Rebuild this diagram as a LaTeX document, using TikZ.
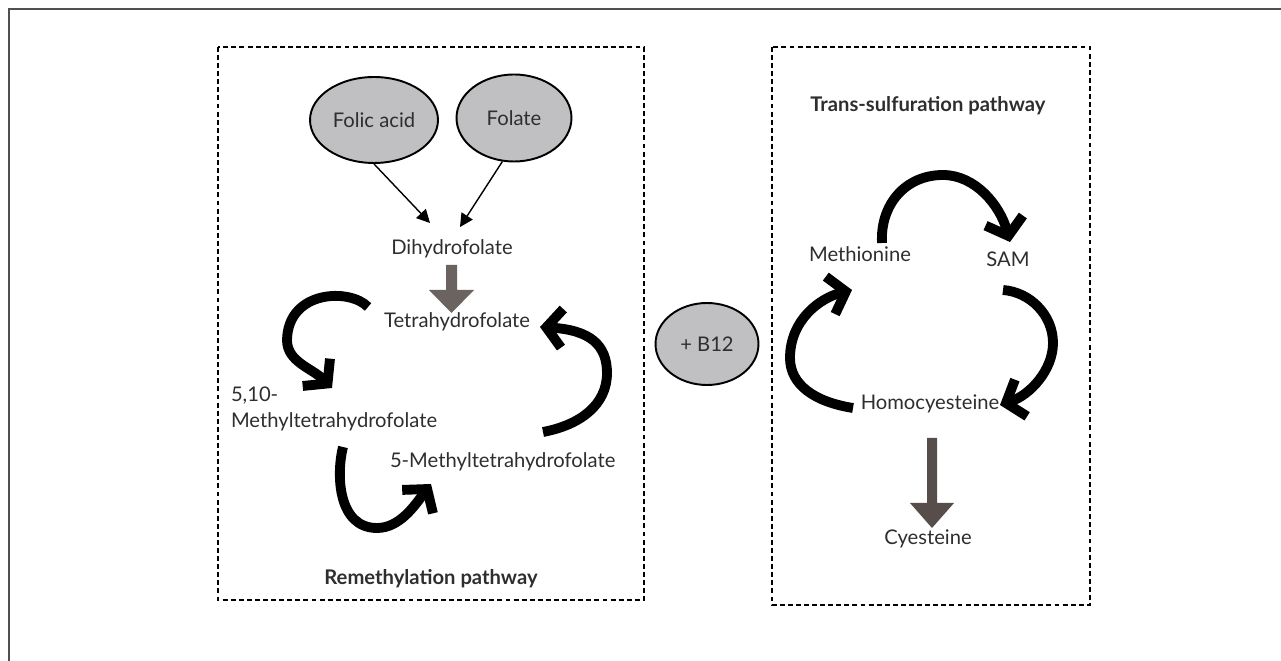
\documentclass[tikz,border=0pt]{standalone}
\usepackage{fontspec}
\setmainfont{Lato}
\usetikzlibrary{arrows.meta,shapes.geometric}
\definecolor{txt}{HTML}{2E2E2E}
\definecolor{ellfill}{HTML}{C0C0C2}
\definecolor{framecol}{HTML}{505050}
\definecolor{arrowL}{HTML}{6B6360}
\definecolor{arrowR}{HTML}{574E4B}
\begin{document}
\begin{tikzpicture}[x=0.02cm,y=-0.02cm,
  lbl/.style={font=\fontsize{11.5}{13}\selectfont, text=txt, inner sep=0pt, outer sep=0pt},
  ttl/.style={font=\fontsize{11.5}{13}\selectfont\bfseries, text=txt, inner sep=0pt},
  src/.style={ellipse, draw=black, line width=1.1pt, fill=ellfill, text=txt,
    font=\fontsize{11.5}{13}\selectfont, inner sep=0pt},
  thinarrow/.style={draw=black, line width=0.8pt, -{Triangle[length=7.5pt,width=7.5pt]}},
  cyclearrow/.style={draw=black, line width=5.6pt, line cap=butt,
    -{Straight Barb[length=9pt,width=22pt,line width=5.6pt]}},
  dashbox/.style={draw=black, line width=0.6pt, dash pattern=on 2.8pt off 1.8pt}
]
\useasboundingbox (0,0) rectangle (1281,661);
% outer frame
\draw[framecol, line width=1.1pt] (1281,9) -- (9,9) -- (9,661);
% dashed boxes
\draw[dashbox] (218,47) rectangle (644,600);
\draw[dashbox] (772,47) rectangle (1090,605);

% ---- left: remethylation ----
\node[src, minimum width=2.56cm, minimum height=1.72cm] (folic) at (374,120) {Folic acid};
\node[src, minimum width=2.3cm, minimum height=1.74cm] (folate) at (514,118) {Folate};
\node[lbl, anchor=base] (dhf) at (452,255) {Dihydrofolate};
\node[lbl, anchor=base] (thf) at (457,328) {Tetrahydrofolate};
\node[lbl, anchor=base west] (c510) at (231,402) {5,10-};
\node[lbl, anchor=base west] (mthf) at (231,428) {Methyltetrahydrofolate};
\node[lbl, anchor=base west] (fmthf) at (390,468) {5-Methyltetrahydrofolate};
\node[ttl, anchor=base] (remeth) at (431,585) {Remethylation pathway};

\coordinate (in1) at (430,223);
\coordinate (in2) at (460,227);
\draw[thinarrow] (folic.south) -- (in1);
\draw[thinarrow] (folate.255) -- (in2);

\fill[arrowL] (446,265) -- (457,265) -- (457,290) -- (474,290) -- (451.5,313) -- (429,290) -- (446,290) -- cycle;

\coordinate (a1s) at (368,307);
\coordinate (a1e) at (332,388);
\draw[cyclearrow] (a1s) .. controls (350,288) and (288,290) .. (287,340)
  .. controls (287,362) and (312,368) .. (a1e);
\coordinate (a2s) at (543,432);
\coordinate (a2e) at (540,327);
\draw[cyclearrow] (a2s) .. controls (580,425) and (607,405) .. (607,373)
  .. controls (607,345) and (590,330) .. (a2e);
\coordinate (a3s) at (343,447);
\coordinate (a3e) at (431,484);
\draw[cyclearrow] (a3s) .. controls (336,475) and (338,528) .. (377,528)
  .. controls (400,528) and (415,505) .. (a3e);

% ---- B12 ----
\node[src, minimum width=2.06cm, minimum height=1.64cm] (b12) at (707,344) {+ B12};

% ---- right: trans-sulfuration ----
\node[ttl, anchor=base west] (trans) at (810,112) {Trans-sulfuration pathway};
\node[lbl, anchor=base] (met) at (860,262) {Methionine};
\node[lbl, anchor=base] (sam) at (1008,267) {SAM};
\node[lbl, anchor=base] (hcy) at (930,410) {Homocyesteine};
\node[lbl, anchor=base] (cys) at (928,545) {Cyesteine};

\coordinate (b1s) at (882,243);
\coordinate (b1e) at (1010,242);
\draw[cyclearrow] (b1s) .. controls (880,205) and (905,175) .. (943,175)
  .. controls (975,175) and (1000,205) .. (b1e);
\coordinate (b2s) at (1003,290);
\coordinate (b2e) at (1000,405);
\draw[cyclearrow] (b2s) .. controls (1030,292) and (1053,315) .. (1053,343)
  .. controls (1053,370) and (1030,395) .. (b2e);
\coordinate (b3s) at (853,408);
\coordinate (b3e) at (852,290);
\draw[cyclearrow] (b3s) .. controls (815,402) and (790,385) .. (790,358)
  .. controls (790,320) and (820,298) .. (b3e);

\fill[arrowR] (927,438) -- (937,438) -- (937,503) -- (954,503) -- (932,528) -- (910,503) -- (927,503) -- cycle;
\end{tikzpicture}
\end{document}
